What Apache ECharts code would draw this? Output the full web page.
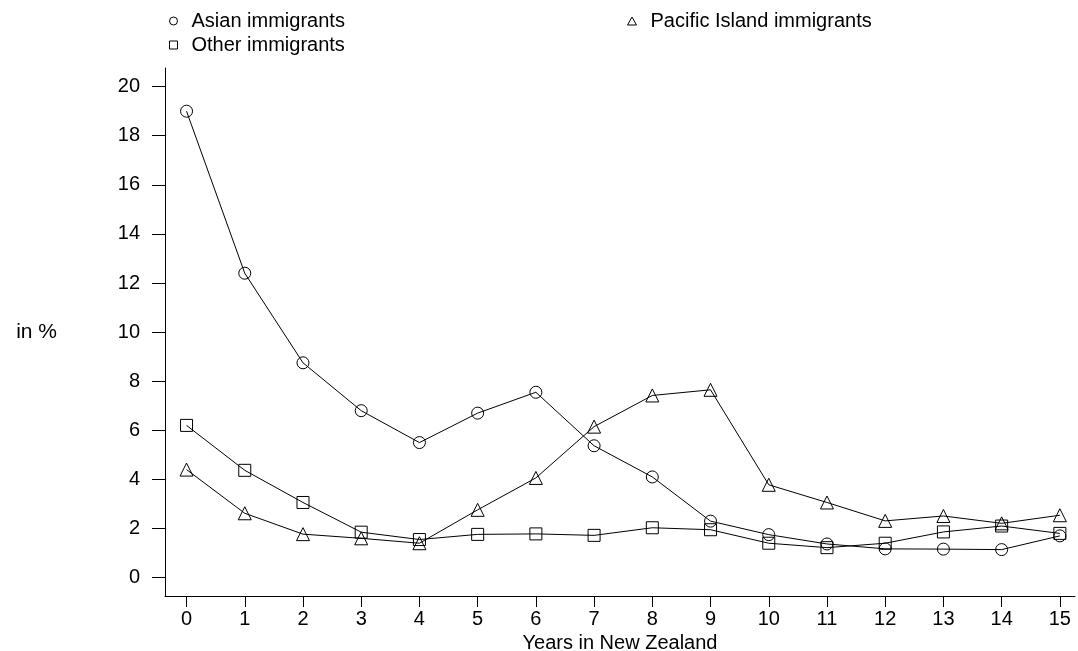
<!DOCTYPE html>
<html>
<head>
<meta charset="utf-8">
<script src="https://cdn.jsdelivr.net/npm/echarts@6/dist/echarts.min.js"></script>
<style>
  html, body { margin: 0; padding: 0; background: #fff; }
  #chart { width: 1078px; height: 651px; }
</style>
</head>
<body>
<div id="chart"></div>
<script>
// Share of immigrants (in %) by years spent in New Zealand
const years = [0, 1, 2, 3, 4, 5, 6, 7, 8, 9, 10, 11, 12, 13, 14, 15];
const asian = [19.0, 12.4, 8.75, 6.8, 5.5, 6.7, 7.55, 5.37, 4.1, 2.3, 1.75, 1.37, 1.17, 1.16, 1.14, 1.7];
const other = [6.2, 4.37, 3.06, 1.85, 1.55, 1.76, 1.78, 1.72, 2.03, 1.95, 1.4, 1.22, 1.4, 1.86, 2.1, 1.8];
const pacific = [4.4, 2.62, 1.77, 1.6, 1.4, 2.76, 4.06, 6.15, 7.42, 7.65, 3.78, 3.06, 2.31, 2.51, 2.21, 2.54];
const xTicks = [0, 1, 2, 3, 4, 5, 6, 7, 8, 9, 10, 11, 12, 13, 14, 15];
const yTicks = [0, 2, 4, 6, 8, 10, 12, 14, 16, 18, 20];

const FONT = 'Liberation Sans, Arial, sans-serif';
const hollow = { color: 'rgba(0,0,0,0)', borderColor: '#000', borderWidth: 1 };

function pairs(vals) {
  return years.map((y, i) => [y, vals[i]]);
}

function lineSeries(name, vals, symbol, size) {
  return {
    name: name,
    type: 'line',
    data: pairs(vals),
    symbol: symbol,
    symbolSize: size,
    showAllSymbol: true,
    lineStyle: { color: '#000', width: 1 },
    itemStyle: hollow,
    emphasis: { disabled: true },
    silent: true,
    z: 2
  };
}

const legendText = {
  fontFamily: FONT, fontSize: 20, color: '#000',
  lineHeight: 20, padding: [0, 0, 0, 9]
};

const option = {
  animation: false,
  backgroundColor: '#fff',
  textStyle: { fontFamily: FONT },
  legend: [
    {
      orient: 'vertical',
      left: 169,
      top: 11,
      padding: 0,
      itemWidth: 8,
      itemHeight: 8,
      itemGap: 4,
      selectedMode: false,
      textStyle: legendText,
      itemStyle: hollow,
      data: [
        { name: 'Asian immigrants', icon: 'circle' },
        { name: 'Other immigrants', icon: 'rect' }
      ]
    },
    {
      orient: 'vertical',
      left: 627,
      top: 11,
      padding: 0,
      itemWidth: 9,
      itemHeight: 8,
      selectedMode: false,
      textStyle: legendText,
      itemStyle: hollow,
      data: [{ name: 'Pacific Island immigrants', icon: 'triangle' }]
    }
  ],
  grid: { left: 165, right: 3, top: 68, bottom: 55, outerBoundsMode: 'none', containLabel: false },
  xAxis: {
    type: 'value',
    min: -0.37,
    max: 15.26,
    name: 'Years in New Zealand',
    nameLocation: 'middle',
    nameGap: 35,
    nameTextStyle: { fontFamily: FONT, fontSize: 20, color: '#000' },
    splitLine: { show: false },
    axisLine: { show: true, onZero: false, lineStyle: { color: '#000', width: 1 } },
    axisTick: { show: true, length: 11, customValues: xTicks, lineStyle: { color: '#000' } },
    axisLabel: { customValues: xTicks, margin: 13, fontFamily: FONT, fontSize: 20, color: '#000' }
  },
  yAxis: {
    type: 'value',
    min: -0.75,
    max: 20.76,
    name: 'in %',
    nameLocation: 'middle',
    nameRotate: 0,
    nameGap: 108,
    nameTextStyle: { fontFamily: FONT, fontSize: 21, color: '#000' },
    splitLine: { show: false },
    axisLine: { show: true, onZero: false, lineStyle: { color: '#000', width: 1 } },
    axisTick: { show: true, length: 13, customValues: yTicks, lineStyle: { color: '#000' } },
    axisLabel: { customValues: yTicks, margin: 25, fontFamily: FONT, fontSize: 20, color: '#000' }
  },
  series: [
    lineSeries('Asian immigrants', asian, 'circle', 12),
    lineSeries('Other immigrants', other, 'rect', 12),
    lineSeries('Pacific Island immigrants', pacific, 'triangle', 13)
  ]
};

const chart = echarts.init(document.getElementById('chart'), null, { renderer: 'canvas' });
chart.setOption(option);
</script>
</body>
</html>
